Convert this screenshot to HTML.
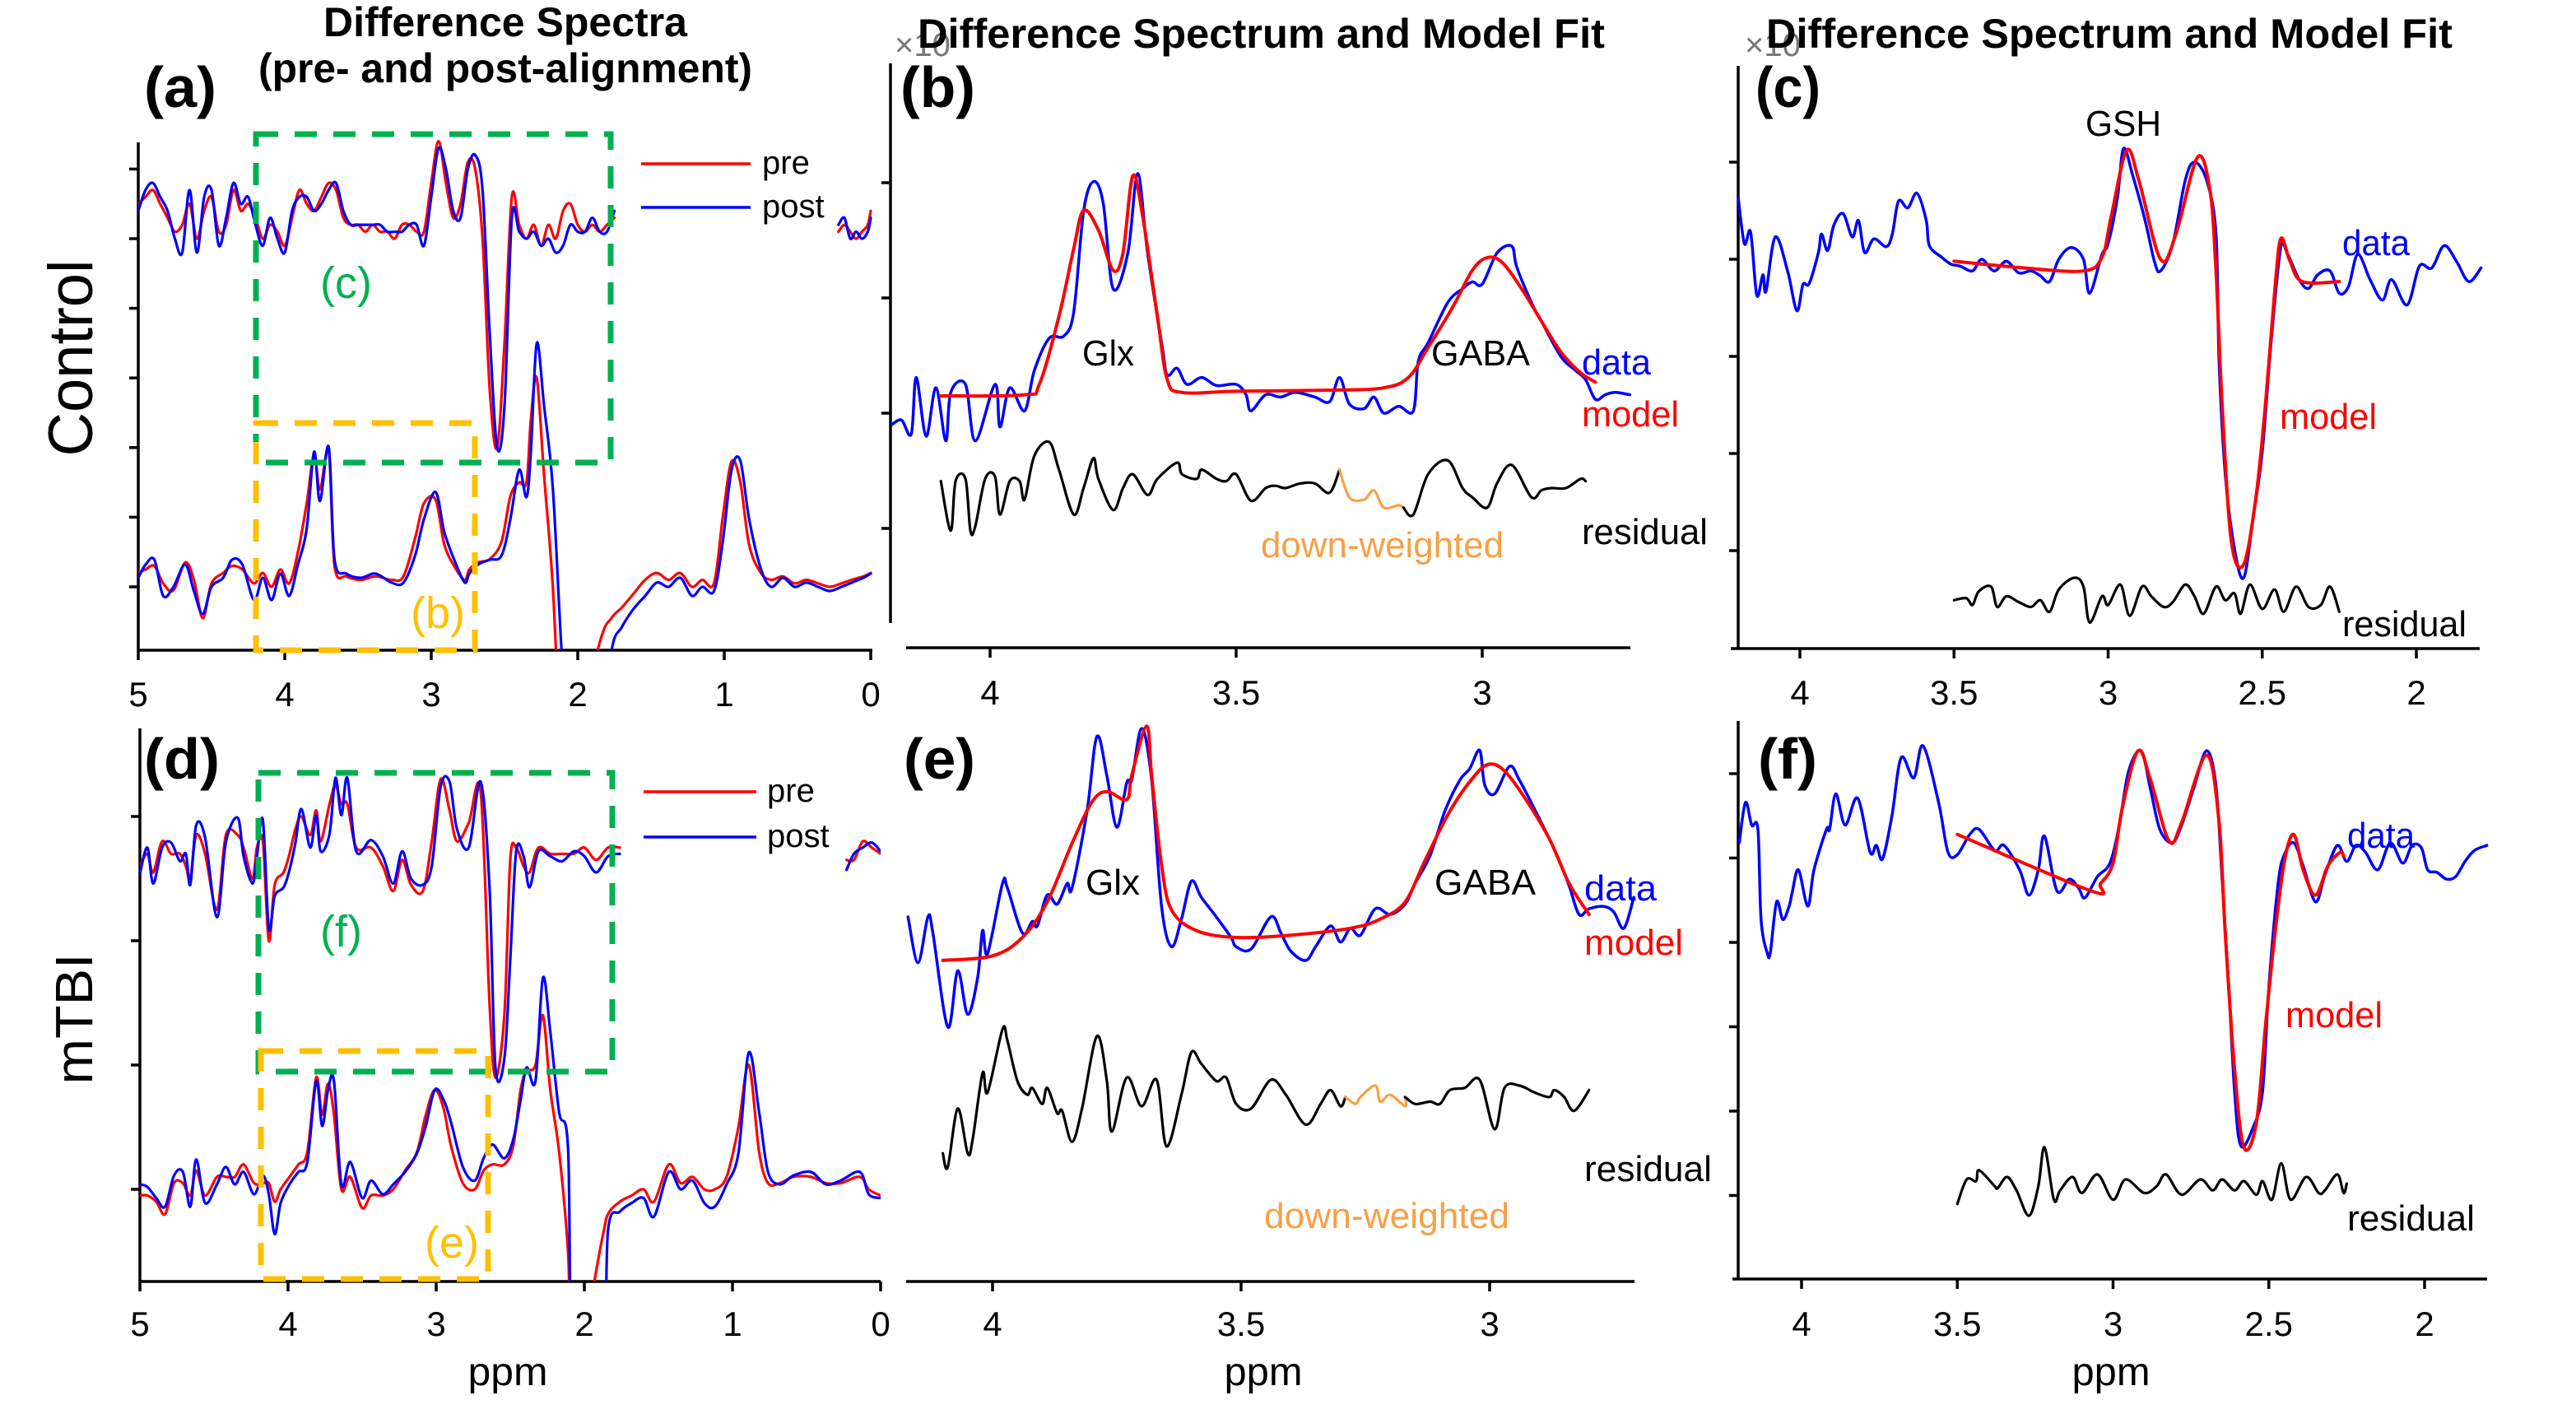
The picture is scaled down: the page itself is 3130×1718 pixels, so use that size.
<!DOCTYPE html>
<html><head><meta charset="utf-8"><style>
html,body{margin:0;padding:0;background:#fff;}
svg{display:block;font-family:"Liberation Sans",Arial,sans-serif;}
</style></head><body>
<svg id="fig" width="3130" height="1718" viewBox="0 0 3130 1718" xmlns="http://www.w3.org/2000/svg">
<defs>
<clipPath id="clipA"><rect x="168" y="150" width="893" height="640"/></clipPath>
<clipPath id="clipD"><rect x="170" y="870" width="900" height="687"/></clipPath>
</defs>
<g id="marks"></g>
<g id="overlay">
<text x="614" y="44" font-size="50" font-weight="bold" text-anchor="middle" textLength="442" lengthAdjust="spacingAndGlyphs">Difference Spectra</text>
<text x="614" y="100" font-size="50" font-weight="bold" text-anchor="middle" textLength="600" lengthAdjust="spacingAndGlyphs">(pre- and post-alignment)</text>
<text x="1087" y="68" font-size="40" fill="#777">×10</text>
<text x="2120" y="68" font-size="40" fill="#777">×10</text>
<text x="1115" y="58" font-size="50" font-weight="bold" textLength="835" lengthAdjust="spacingAndGlyphs">Difference Spectrum and Model Fit</text>
<text x="2146" y="58" font-size="50" font-weight="bold" textLength="834" lengthAdjust="spacingAndGlyphs">Difference Spectrum and Model Fit</text>
<text x="175" y="130" font-size="70" font-weight="bold" textLength="88" lengthAdjust="spacingAndGlyphs">(a)</text>
<text x="1094" y="130" font-size="70" font-weight="bold" textLength="91" lengthAdjust="spacingAndGlyphs">(b)</text>
<text x="2133" y="130" font-size="70" font-weight="bold" textLength="79" lengthAdjust="spacingAndGlyphs">(c)</text>
<text x="175" y="946" font-size="70" font-weight="bold" textLength="92" lengthAdjust="spacingAndGlyphs">(d)</text>
<text x="1098" y="946" font-size="70" font-weight="bold" textLength="87" lengthAdjust="spacingAndGlyphs">(e)</text>
<text x="2136" y="946" font-size="70" font-weight="bold" textLength="72" lengthAdjust="spacingAndGlyphs">(f)</text>
<text transform="translate(112,435) rotate(-90)" font-size="76" text-anchor="middle" textLength="239" lengthAdjust="spacingAndGlyphs">Control</text>
<text transform="translate(112,1238) rotate(-90)" font-size="64" text-anchor="middle" textLength="159" lengthAdjust="spacingAndGlyphs">mTBI</text>
<g>
<line x1="779" y1="199" x2="912" y2="199" stroke="#f00" stroke-width="3.5"/>
<text x="926" y="211" font-size="40">pre</text>
<line x1="779" y1="252" x2="912" y2="252" stroke="#00f" stroke-width="3.5"/>
<text x="926" y="264" font-size="40">post</text>
</g>
<g>
<line x1="782" y1="962" x2="919" y2="962" stroke="#f00" stroke-width="3.5"/>
<text x="932" y="974" font-size="40">pre</text>
<line x1="782" y1="1017" x2="919" y2="1017" stroke="#00f" stroke-width="3.5"/>
<text x="932" y="1029" font-size="40">post</text>
</g>
<rect x="311" y="163" width="431" height="399" fill="none" stroke="#00b050" stroke-width="7" stroke-dasharray="27 20"/>
<rect x="311" y="514" width="266" height="276" fill="none" stroke="#ffc000" stroke-width="7" stroke-dasharray="27 20"/>
<rect x="314" y="939" width="430" height="363" fill="none" stroke="#00b050" stroke-width="7" stroke-dasharray="27 20"/>
<rect x="317" y="1277" width="276" height="277" fill="none" stroke="#ffc000" stroke-width="7" stroke-dasharray="27 20"/>
<text x="389" y="362" font-size="54" fill="#00b050">(c)</text>
<text x="499" y="763" font-size="54" fill="#ffc000">(b)</text>
<text x="389" y="1150" font-size="54" fill="#00b050">(f)</text>
<text x="516" y="1528" font-size="54" fill="#ffc000">(e)</text>
<text x="1315" y="444" font-size="44" textLength="63" lengthAdjust="spacingAndGlyphs">Glx</text>
<text x="1739" y="444" font-size="44" textLength="120" lengthAdjust="spacingAndGlyphs">GABA</text>
<text x="1922" y="455" font-size="44" fill="#00f" textLength="84" lengthAdjust="spacingAndGlyphs">data</text>
<text x="1922" y="518" font-size="44" fill="#f00" textLength="118" lengthAdjust="spacingAndGlyphs">model</text>
<text x="1922" y="661" font-size="44" textLength="153" lengthAdjust="spacingAndGlyphs">residual</text>
<text x="1532" y="677" font-size="44" fill="#f7a046" textLength="295" lengthAdjust="spacingAndGlyphs">down-weighted</text>
<text x="2534" y="165" font-size="44" textLength="92" lengthAdjust="spacingAndGlyphs">GSH</text>
<text x="2846" y="310" font-size="44" fill="#00f" textLength="82" lengthAdjust="spacingAndGlyphs">data</text>
<text x="2770" y="521" font-size="44" fill="#f00" textLength="118" lengthAdjust="spacingAndGlyphs">model</text>
<text x="2846" y="773" font-size="44" textLength="151" lengthAdjust="spacingAndGlyphs">residual</text>
<text x="1319" y="1087" font-size="44" textLength="66" lengthAdjust="spacingAndGlyphs">Glx</text>
<text x="1743" y="1087" font-size="44" textLength="123" lengthAdjust="spacingAndGlyphs">GABA</text>
<text x="1925" y="1094" font-size="44" fill="#00f" textLength="88" lengthAdjust="spacingAndGlyphs">data</text>
<text x="1925" y="1160" font-size="44" fill="#f00" textLength="120" lengthAdjust="spacingAndGlyphs">model</text>
<text x="1925" y="1435" font-size="44" textLength="155" lengthAdjust="spacingAndGlyphs">residual</text>
<text x="1536" y="1492" font-size="44" fill="#f7a046" textLength="298" lengthAdjust="spacingAndGlyphs">down-weighted</text>
<text x="2852" y="1030" font-size="44" fill="#00f" textLength="82" lengthAdjust="spacingAndGlyphs">data</text>
<text x="2777" y="1248" font-size="44" fill="#f00" textLength="118" lengthAdjust="spacingAndGlyphs">model</text>
<text x="2852" y="1495" font-size="44" textLength="155" lengthAdjust="spacingAndGlyphs">residual</text>
<text x="617" y="1683" font-size="48" text-anchor="middle" textLength="97" lengthAdjust="spacingAndGlyphs">ppm</text>
<text x="1535" y="1683" font-size="48" text-anchor="middle" textLength="95" lengthAdjust="spacingAndGlyphs">ppm</text>
<text x="2565" y="1683" font-size="48" text-anchor="middle" textLength="95" lengthAdjust="spacingAndGlyphs">ppm</text>
</g>
</svg>
<script>
const ppmTopA = [5.00,4.95,4.90,4.85,4.80,4.75,4.70,4.65,4.60,4.55,4.50,4.45,4.40,4.35,4.30,4.25,4.20,4.15,4.10,4.05,4.00,3.95,3.90,3.85,3.80,3.75,3.70,3.65,3.60,3.55,3.50,3.45,3.40,3.35,3.30,3.25,3.20,3.15,3.10,3.05,3.00,2.95,2.90,2.85,2.80,2.75,2.70,2.65,2.60,2.55,2.50,2.45,2.40,2.35,2.30,2.25,2.20,2.15,2.10,2.05,2.00,1.95,1.90,1.85,1.80,1.75];
const postTopA = [54,57,58,56,54,50,48,57,48,56,57,49,53,58,55,56,52,49,53,50,48,54,56,56,54,55,57,58,54,52,52,52,52,52,51,51,51,52,52,49,56,63,60,54,53,60,62,57,36,20,26,53,51,50,51,49,50,48,49,52,51,51,53,51,51,54];
const preTopA = [55,56,57,55,53,51,52,55,50,54,56,51,52,57,54,55,53,50,52,51,49,53,57,55,54,56,58,57,53,52,52,51,52,51,51,50,52,52,51,51,58,64,58,53,55,61,60,50,28,20,35,56,52,50,52,49,52,50,54,55,52,51,52,51,52,53];
const ppmTailA = [0.22,0.18,0.14,0.10,0.06,0.02,0.00];
const postTailA = [52,53,50,51,50,51,53];
const preTailA = [51,52,51,50,51,52,54];
const ppmBotA = [5.00,4.95,4.89,4.83,4.76,4.68,4.62,4.56,4.50,4.42,4.36,4.29,4.21,4.15,4.09,4.03,3.97,3.91,3.85,3.80,3.76,3.70,3.66,3.58,3.48,3.38,3.27,3.19,3.11,3.05,2.97,2.91,2.83,2.77,2.74,2.68,2.60,2.52,2.46,2.40,2.35,2.32,2.28,2.23,2.17,2.11,2.05,1.85,1.77,1.70,1.62,1.54,1.46,1.38,1.30,1.22,1.15,1.07,1.01,0.95,0.89,0.83,0.75,0.68,0.60,0.52,0.44,0.36,0.28,0.20,0.13,0.05,0.00];
const postBotA = [1.3,3.2,3.9,-1.3,0,3.2,-0.6,-3.9,0,1.3,3.9,3.2,-1.9,1.3,-1.9,1.9,-1.3,3.2,8.4,19.4,12.3,20.1,3.9,1.9,1.3,1.9,0.6,0.6,4.5,9.7,13.6,7.8,3.2,0.6,1.9,3.2,3.9,4.5,9.7,16.8,12.9,19.4,35,26,14.2,-9.3,-25,-25,-9.3,-5.8,-3.2,-1.3,0.6,0,1.3,-1.3,0,-0.6,6.5,16.8,18.1,9.7,2.6,0,1.3,0,0.6,0,-0.6,0,0.6,1.3,1.9];
const preBotA = [2.0,2.5,3.0,0.5,-0.5,3.5,1.0,-4.5,0.5,2.0,3.0,2.5,0.5,2.0,0,2.5,0.5,5.0,12.0,19.0,14.0,19.5,3.0,1.5,1.0,1.5,1.0,1.5,7.0,12.0,12.5,6.0,2.5,1.0,2.5,3.5,4.0,6.5,13.0,15.0,15.0,24.0,30.0,16.0,0,-25,-25,-8.0,-4.5,-3.0,-1.0,1.0,2.0,1.0,2.0,0,1.0,0.5,10.0,18.0,15.0,6.0,2.0,1.0,1.5,0.5,1.0,0.5,0,0.5,1.0,1.5,2.0];
const xTicksA = [5,4,3,2,1,0];
const yTicksA = [0,10,20,30,40,50,60];

const ppmDataB = [4.20,4.18,4.16,4.15,4.13,4.11,4.09,4.08,4.05,4.03,3.99,3.98,3.96,3.93,3.91,3.88,3.85,3.83,3.81,3.79,3.77,3.75,3.72,3.70,3.68,3.65,3.64,3.62,3.60,3.57,3.54,3.50,3.48,3.47,3.44,3.41,3.38,3.34,3.31,3.29,3.27,3.24,3.22,3.20,3.17,3.14,3.13,3.11,3.07,3.04,3.02,3.00,2.97,2.94,2.93,2.90,2.88,2.84,2.81,2.79,2.77,2.75,2.73,2.70];
const dataB = [-1.0,-0.6,-1.8,3.1,-2.0,2.2,-2.4,1.8,2.5,-2.4,2.5,-1.2,2.2,0.2,3.7,6.5,6.7,8.8,17.5,20.1,18.2,10.8,13.9,20.8,13.9,5.7,3.3,3.9,2.5,3.1,2.4,2.5,1.6,0.2,1.6,1.4,1.8,1.4,1.0,3.1,0.8,0.4,1.4,0,0.6,0.2,4.5,6.1,9.6,10.8,11.4,11.2,13.9,14.5,12.7,9.6,8.0,4.9,3.7,2.9,1.2,1.6,1.8,1.6];
const ppmModelB = [4.10,3.93,3.90,3.86,3.83,3.81,3.78,3.75,3.73,3.71,3.69,3.66,3.64,3.61,3.50,3.30,3.20,3.15,3.11,3.06,3.02,2.99,2.96,2.92,2.88,2.84,2.80,2.77];
const modelB = [1.5,1.6,2.5,8.4,14.3,17.6,15.9,12.4,13.9,20.6,17.1,8.4,2.9,1.8,1.9,2.0,2.2,3.1,5.7,9.2,12.4,13.5,13.1,10.8,8.0,5.3,3.5,2.7];
const ppmResB = [4.10,4.08,4.07,4.05,4.04,4.03,4.01,3.99,3.98,3.96,3.94,3.93,3.91,3.88,3.86,3.83,3.81,3.79,3.78,3.75,3.73,3.71,3.68,3.66,3.62,3.61,3.58,3.57,3.54,3.52,3.50,3.47,3.44,3.42,3.40,3.37,3.34,3.31,3.29];
const resB = [-5.9,-10.2,-5.9,-5.7,-10.2,-9.8,-5.7,-5.5,-8.8,-5.9,-5.9,-7.5,-3.7,-2.5,-4.9,-8.8,-6.5,-3.9,-5.7,-8.4,-6.5,-5.3,-7.1,-5.7,-4.3,-5.3,-5.7,-4.9,-5.7,-5.9,-5.3,-7.6,-6.5,-6.3,-6.5,-6.1,-6.1,-6.9,-4.9];
const ppmDownB = [3.29,3.27,3.24,3.22,3.20,3.17,3.16];
const downB = [-4.9,-7.3,-7.5,-6.7,-8.2,-8.0,-8.2];
const ppmRes2B = [3.16,3.14,3.11,3.07,3.04,3.02,2.99,2.97,2.94,2.90,2.88,2.86,2.83,2.80,2.79];
const res2B = [-8.2,-8.8,-5.3,-4.1,-6.5,-7.3,-8.2,-6.1,-4.5,-7.3,-6.7,-6.5,-6.5,-5.7,-5.9];
const xTicksB = [4,3.5,3];
const yTicksB = [-10,0,10,20];

const ppmDataC = [4.20,4.18,4.16,4.14,4.12,4.11,4.08,4.04,4.01,3.99,3.97,3.94,3.93,3.91,3.89,3.86,3.83,3.81,3.79,3.76,3.72,3.70,3.68,3.65,3.62,3.59,3.58,3.54,3.51,3.48,3.44,3.41,3.37,3.33,3.29,3.25,3.22,3.19,3.16,3.12,3.08,3.06,3.02,3.00,2.97,2.95,2.92,2.88,2.85,2.83,2.79,2.75,2.72,2.68,2.65,2.64,2.62,2.59,2.56,2.53,2.50,2.47,2.44,2.42,2.38,2.35,2.32,2.28,2.25,2.22,2.19,2.15,2.11,2.08,2.03,1.99,1.95,1.91,1.87,1.83,1.79];
const dataC = [6.3,1.6,2.8,-3.7,-1.6,-3.3,2.3,-1.2,-5.3,-2.6,-2.5,0.7,2.6,0.9,3.5,4.7,2.3,4.0,0.7,2.1,1.3,2.6,6.0,5.3,6.8,4.0,1.4,0.2,-0.5,-0.7,-1.2,0,-1.2,-0.2,-1.4,-1.2,-1.7,-2.3,0,1.2,0,-3.5,0.5,1.6,6.3,11.4,8.6,4.0,-0.2,-1.2,1.6,8.1,10.0,8.1,2.6,-10.5,-22.1,-29.8,-32.8,-26.7,-19.8,-8.1,1.2,0.7,-2.1,-3.0,-1.6,-1.2,-3.5,-2.8,0.5,-2.1,-4.2,-2.1,-4.7,-0.7,-0.9,1.4,-0.2,-2.3,-0.9];
const ppmModelC = [3.50,3.27,3.08,3.02,2.99,2.94,2.90,2.83,2.78,2.71,2.67,2.65,2.63,2.60,2.56,2.52,2.49,2.46,2.44,2.41,2.37,2.25];
const modelC = [-0.2,-0.9,-1.2,0.2,4.4,11.2,8.1,0,2.6,10.5,7.2,-1.2,-15.1,-29.1,-31.4,-24.4,-15.1,-3.5,2.1,-0.2,-2.3,-2.3];
const ppmResC = [3.50,3.46,3.44,3.42,3.38,3.36,3.33,3.29,3.25,3.22,3.19,3.16,3.11,3.08,3.06,3.02,3.00,2.96,2.93,2.89,2.86,2.82,2.79,2.75,2.72,2.69,2.65,2.62,2.59,2.57,2.54,2.50,2.46,2.43,2.39,2.35,2.31,2.28,2.25];
const resC = [-35.1,-34.9,-35.6,-34.2,-33.7,-35.8,-34.7,-35.3,-35.8,-35.1,-36.3,-34.0,-32.8,-33.7,-37.4,-34.7,-35.6,-33.5,-36.7,-33.7,-34.7,-35.8,-35.3,-33.5,-34.7,-36.5,-33.7,-35.1,-34.4,-36.5,-33.5,-36.0,-34.0,-36.3,-33.7,-35.8,-35.6,-33.7,-36.3];
const xTicksC = [4,3.5,3,2.5,2];
const yTicksC = [10,0,-10,-20,-30];

const ppmTopD = [5.00,4.95,4.91,4.85,4.79,4.73,4.69,4.66,4.62,4.56,4.48,4.42,4.34,4.30,4.24,4.21,4.17,4.13,4.09,4.03,3.99,3.95,3.91,3.85,3.81,3.78,3.72,3.68,3.64,3.60,3.54,3.44,3.36,3.29,3.23,3.17,3.09,3.03,2.97,2.91,2.86,2.78,2.70,2.64,2.60,2.54,2.50,2.46,2.41,2.37,2.31,2.23,2.15,2.07,2.00,1.92,1.84,1.76];
const postTopD = [25.4,27.5,24.6,27.5,27.9,26.4,27.0,24.5,29.3,28.3,21.9,27.9,29.9,26.8,24.6,26.8,29.7,21.0,23.6,24.3,25.7,27.9,30.6,27.5,30.1,27.2,28.6,33.1,30.1,33.1,27.2,28.1,26.8,24.6,27.2,25.0,24.5,26.0,32.4,32.8,29.0,27.5,32.8,24.3,9.8,10.5,18.5,27.2,26.8,24.3,27.2,26.8,26.4,27.2,26.8,25.5,26.8,27.0];
const preTopD = [26.0,27.0,25.5,28.0,27.0,27.0,26.0,25.0,28.5,27.0,22.5,28.5,28.5,27.5,25.0,27.5,28.0,20.0,24.5,25.5,27.0,29.0,30.0,28.5,30.5,28.0,31.0,32.5,31.0,31.0,27.5,27.5,26.0,24.0,26.5,24.5,24.0,28.0,33.0,30.5,28.0,29.5,32.0,15.0,9.0,14.0,26.5,27.5,26.0,25.5,27.5,27.0,27.0,27.0,27.5,26.5,27.5,27.5];
const ppmTailD = [0.23,0.18,0.12,0.06,0.00];
const postTailD = [25.7,27.0,27.5,27.9,27.2];
const preTailD = [26.5,26.5,28.0,27.5,27.0];
const ppmBotD = [5.00,4.95,4.89,4.83,4.77,4.71,4.66,4.62,4.56,4.48,4.42,4.36,4.30,4.23,4.17,4.13,4.09,4.05,3.99,3.93,3.87,3.81,3.77,3.73,3.69,3.64,3.58,3.50,3.44,3.36,3.29,3.21,3.13,3.07,3.01,2.95,2.90,2.82,2.74,2.68,2.62,2.54,2.48,2.43,2.39,2.33,2.28,2.23,2.17,2.11,2.07,1.88,1.84,1.76,1.68,1.60,1.53,1.43,1.35,1.27,1.19,1.12,1.04,0.96,0.89,0.82,0.76,0.68,0.59,0.47,0.37,0.27,0.14,0.08,0.00];
const postBotD = [0.4,0.2,-0.7,-1.4,1.1,1.4,-1.4,2.4,-1.1,0.4,1.8,0.4,1.4,-0.4,1.1,-0.4,-3.6,-1.1,0.4,1.4,2.2,8.7,5.1,8.0,8.7,0.4,2.2,-0.7,0.7,-0.4,0.4,1.4,2.9,5.1,8.0,7.2,5.4,1.8,0.7,2.5,3.6,2.5,4.0,7.2,9.8,8.7,17.0,12.7,6.2,3.3,-15,-15,-3.3,-1.8,-1.1,-0.7,-2.2,1.4,0,0.7,-1.1,-1.4,0.4,2.9,11.0,6.2,1.4,0.4,1.1,1.4,0.4,0.7,1.4,-0.4,-0.7];
const preBotD = [-0.5,-0.5,-1.0,-2.0,0.5,0.5,-0.5,1.5,-0.5,1.0,1.0,1.0,2.0,0.5,0.5,0.5,-1.0,0,1.0,2.0,3.0,9.0,6.0,8.5,6.0,0,1.0,-1.5,-0.5,-0.5,0,1.5,3.0,6.0,8.0,6.5,3.5,0.5,0,1.5,2.0,2.0,3.5,8.0,9.5,10.0,14.0,8.0,3.0,-5.0,-15,-4.0,-2.0,-1.0,-0.5,0,-1.0,2.0,0.5,1.0,0,0,1.0,5.0,10.0,3.0,0.5,0.5,1.0,1.0,0.5,0.5,1.0,0,-0.5];
const xTicksD = [5,4,3,2,1,0];
const yTicksD = [0,10,20,30];

const ppmDataE = [4.17,4.15,4.13,4.12,4.09,4.07,4.05,4.03,4.02,4.01,3.98,3.97,3.94,3.92,3.91,3.89,3.87,3.85,3.84,3.81,3.79,3.77,3.75,3.73,3.72,3.70,3.68,3.66,3.64,3.62,3.60,3.58,3.55,3.52,3.51,3.48,3.44,3.42,3.40,3.37,3.35,3.32,3.30,3.28,3.26,3.23,3.20,3.17,3.15,3.12,3.09,3.06,3.04,3.02,3.01,2.99,2.96,2.94,2.91,2.88,2.86,2.84,2.82,2.80,2.77,2.75,2.73,2.71];
const dataE = [1.8,-2.2,1.8,0.4,-7.8,-2.9,-6.7,-3.5,0.6,-1.4,4.7,4.3,0.4,1.4,1.0,3.7,2.9,4.7,4.3,11.0,17.5,14.1,9.6,13.5,13.7,18.2,13.7,2.7,-0.8,1.6,4.9,3.5,1.8,0,-0.8,-1.0,1.8,0.4,-1.2,-2.0,-0.8,1.0,-0.4,0.8,0.2,2.5,2.0,2.9,4.7,7.1,11.0,13.7,14.7,16.3,13.3,12.5,14.9,13.7,11.2,8.6,6.7,4.5,2.0,2.5,2.7,2.2,0.8,3.5];
const ppmModelE = [4.10,4.00,3.94,3.89,3.84,3.80,3.77,3.73,3.72,3.69,3.68,3.66,3.64,3.59,3.51,3.40,3.28,3.22,3.17,3.13,3.08,3.03,3.00,2.97,2.93,2.88,2.84,2.80];
const modelE = [-2.0,-1.6,0,3.1,8.2,11.8,12.7,12.0,14.1,18.4,14.1,6.3,2.4,0.6,0,0.2,0.8,1.6,3.1,6.7,11.0,14.1,15.1,14.5,12.2,8.6,4.7,2.0];
const ppmResE = [4.10,4.09,4.07,4.05,4.04,4.02,4.01,3.98,3.97,3.95,3.93,3.92,3.90,3.89,3.87,3.86,3.84,3.82,3.79,3.77,3.76,3.73,3.70,3.67,3.65,3.62,3.60,3.58,3.55,3.53,3.51,3.48,3.44,3.41,3.37,3.34,3.32,3.30,3.29];
const resE = [-18.8,-20.0,-14.9,-18.8,-17.6,-11.8,-13.5,-8.0,-9.0,-12.5,-13.7,-13.1,-14.5,-13.1,-15.3,-15.1,-17.8,-14.9,-8.6,-12.5,-16.9,-12.2,-14.7,-12.4,-18.2,-13.7,-10.0,-11.0,-12.5,-12.2,-14.5,-14.9,-12.4,-13.7,-16.3,-14.5,-13.3,-14.7,-13.9];
const ppmDownE = [3.29,3.27,3.26,3.23,3.22,3.20,3.17,3.17];
const downE = [-13.9,-14.5,-13.9,-12.9,-14.3,-13.7,-14.7,-13.9];
const ppmRes2E = [3.17,3.15,3.12,3.10,3.08,3.05,3.02,2.99,2.97,2.94,2.91,2.88,2.87,2.85,2.83,2.80];
const res2E = [-13.9,-14.5,-14.3,-14.5,-13.3,-13.1,-12.4,-16.7,-13.1,-12.9,-13.5,-13.9,-13.3,-13.9,-15.1,-13.3];
const xTicksE = [4,3.5,3];

const ppmDataF = [4.20,4.18,4.16,4.14,4.13,4.11,4.10,4.08,4.06,4.04,4.03,4.01,3.98,3.96,3.92,3.91,3.89,3.86,3.82,3.78,3.76,3.74,3.71,3.68,3.64,3.61,3.56,3.53,3.50,3.46,3.43,3.38,3.35,3.30,3.27,3.24,3.22,3.18,3.14,3.11,3.09,3.05,3.01,2.98,2.95,2.91,2.88,2.85,2.81,2.78,2.74,2.70,2.67,2.65,2.63,2.61,2.59,2.55,2.52,2.50,2.47,2.45,2.42,2.39,2.35,2.32,2.28,2.25,2.22,2.19,2.15,2.11,2.07,2.04,2.01,1.99,1.96,1.93,1.90,1.87,1.84,1.80];
const dataF = [11.8,16.6,13.9,13.4,2.7,-1.3,-1.1,4.8,2.7,4.3,5.9,8.6,4.3,8.6,13.4,13.4,17.6,13.9,17.1,10.7,11.5,9.9,15.0,21.9,19.5,23.3,16.6,10.7,10.4,12.8,13.4,10.9,11.5,8.6,5.6,8.6,12.6,6.1,7.5,6.4,5.3,7.8,9.4,13.9,20.3,22.7,18.2,13.4,11.8,13.9,18.4,22.7,18.7,7.5,-4.3,-17.6,-24.1,-21.9,-17.6,-5.3,7.0,10.4,11.8,9.1,4.8,8.0,11.5,9.6,11.5,10.7,8.6,11.8,9.4,11.5,11.2,8.6,8.3,7.5,7.8,9.6,10.9,11.5];
const ppmModelF = [3.50,3.07,3.04,3.00,2.97,2.92,2.88,2.82,2.78,2.70,2.66,2.64,2.61,2.58,2.54,2.51,2.48,2.45,2.42,2.39,2.35,2.31,2.27,2.26];
const modelF = [12.8,6.1,7.0,9.4,16.0,22.7,19.3,12.0,14.2,22.2,14.4,1.1,-15.0,-24.3,-21.4,-9.6,1.1,9.6,12.8,8.6,5.6,9.1,10.7,10.2];
const ppmResF = [3.50,3.47,3.44,3.43,3.38,3.37,3.34,3.31,3.27,3.24,3.22,3.19,3.17,3.13,3.10,3.05,3.00,2.96,2.90,2.86,2.83,2.78,2.72,2.68,2.65,2.61,2.58,2.54,2.52,2.49,2.46,2.43,2.38,2.34,2.32,2.28,2.26,2.25];
const resF = [-31.0,-28.1,-28.3,-27.0,-28.9,-29.1,-27.8,-29.4,-32.4,-28.9,-24.3,-30.5,-29.4,-27.8,-29.7,-27.5,-30.5,-28.1,-29.7,-28.9,-27.5,-29.9,-28.1,-29.4,-28.1,-29.4,-28.3,-29.9,-28.3,-30.5,-26.2,-30.5,-27.8,-29.7,-29.4,-27.5,-29.7,-28.6];
const xTicksF = [4,3.5,3,2.5,2];
const yTicksF = [20,10,0,-10,-20,-30];

const xA = p => 168 + (5 - p) * 178;
const yA = v => 713 - v * 8.46;
const xD = p => 170 + (5 - p) * 180;
const yD = v => 1445 - v * 15.1;
const xB = p => 1203 + (4 - p) * 598;
const yB = v => 502 - v * 14.0;
const xE = p => 1206 + (4 - p) * 604;
const yE = v => 1139 - v * 13.95;
const xC = p => 2187 + (4 - p) * 374.5;
const yC = v => 315 - v * 11.8;
const xF = p => 2189 + (4 - p) * 378.5;
const yF = v => 1145 - v * 10.25;

const NS = 'http://www.w3.org/2000/svg';
const marks = document.getElementById('marks');

function mk(tag, attrs, parent) {
  const el = document.createElementNS(NS, tag);
  for (const k in attrs) el.setAttribute(k, attrs[k]);
  (parent || marks).appendChild(el);
  return el;
}

function curve(name, ppm, vals, xf, yf, color, w, clip) {
  const P = ppm.map((p, i) => [xf(p), yf(vals[i])]);
  let d = 'M' + P[0][0].toFixed(1) + ',' + P[0][1].toFixed(1);
  const t = 0.5 / 3;
  for (let i = 0; i < P.length - 1; i++) {
    const p0 = P[Math.max(0, i - 1)], p1 = P[i], p2 = P[i + 1], p3 = P[Math.min(P.length - 1, i + 2)];
    const c1x = p1[0] + (p2[0] - p0[0]) * t, c1y = p1[1] + (p2[1] - p0[1]) * t;
    const c2x = p2[0] - (p3[0] - p1[0]) * t, c2y = p2[1] - (p3[1] - p1[1]) * t;
    d += 'C' + c1x.toFixed(1) + ',' + c1y.toFixed(1) + ' ' + c2x.toFixed(1) + ',' + c2y.toFixed(1) + ' ' + p2[0].toFixed(1) + ',' + p2[1].toFixed(1);
  }
  const p = mk('path', {d: d, fill: 'none', stroke: color, 'stroke-width': w, 'stroke-linejoin': 'round', 'stroke-linecap': 'round'});
  if (clip) p.setAttribute('clip-path', 'url(#' + clip + ')');
  
  
  return p;
}

function line(name, x1, y1, x2, y2) {
  const l = mk('line', {x1: x1, y1: y1, x2: x2, y2: y2, stroke: '#000', 'stroke-width': 3.5});
  
  
  return l;
}

function xAxis(prefix, ticks, xf, y, x0, x1, labelY) {
  line(prefix + '-x-axis', x0, y, x1, y);
  ticks.forEach(t => {
    const x = xf(t);
    line(prefix + '-x-tick', x, y, x, y + 12);
    const tx = mk('text', {x: x, y: labelY, 'font-size': 42, 'text-anchor': 'middle'});
    tx.textContent = String(t);
    
    
  });
}

function yAxis(prefix, ticks, yf, x, y0, y1) {
  line(prefix + '-y-axis', x, y0, x, y1);
  ticks.forEach(t => {
    const y = yf(t);
    line(prefix + '-y-tick', x - 11, y, x, y);
  });
}

yAxis('panel-a', yTicksA, yA, 168, 173, 790);
xAxis('panel-a', xTicksA, xA, 790, 168, 1060, 858);
yAxis('panel-b', yTicksB, yB, 1082, 77, 757);
xAxis('panel-b', xTicksB, xB, 787, 1101, 1981, 856);
yAxis('panel-c', yTicksC, yC, 2112, 80, 788);
xAxis('panel-c', xTicksC, xC, 788, 2103, 3013, 856);
yAxis('panel-d', yTicksD, yD, 170, 885, 1557);
xAxis('panel-d', xTicksD, xD, 1557, 170, 1070, 1623);
xAxis('panel-e', xTicksE, xE, 1557, 1101, 1986, 1623);
yAxis('panel-f', yTicksF, yF, 2112, 876, 1554);
xAxis('panel-f', xTicksF, xF, 1554, 2105, 3022, 1623);

curve('pre-top-a', ppmTopA, preTopA, xA, yA, '#f00', 3.2, 'clipA');
curve('post-top-a', ppmTopA, postTopA, xA, yA, '#00f', 3.2, 'clipA');
curve('pre-tail-a', ppmTailA, preTailA, xA, yA, '#f00', 3.2, 'clipA');
curve('post-tail-a', ppmTailA, postTailA, xA, yA, '#00f', 3.2, 'clipA');
curve('pre-bottom-a', ppmBotA, preBotA, xA, yA, '#f00', 3.2, 'clipA');
curve('post-bottom-a', ppmBotA, postBotA, xA, yA, '#00f', 3.2, 'clipA');
curve('pre-top-d', ppmTopD, preTopD, xD, yD, '#f00', 3.2, 'clipD');
curve('post-top-d', ppmTopD, postTopD, xD, yD, '#00f', 3.2, 'clipD');
curve('pre-tail-d', ppmTailD, preTailD, xD, yD, '#f00', 3.2, 'clipD');
curve('post-tail-d', ppmTailD, postTailD, xD, yD, '#00f', 3.2, 'clipD');
curve('pre-bottom-d', ppmBotD, preBotD, xD, yD, '#f00', 3.2, 'clipD');
curve('post-bottom-d', ppmBotD, postBotD, xD, yD, '#00f', 3.2, 'clipD');
curve('data-b', ppmDataB, dataB, xB, yB, '#00f', 3.5);
curve('model-b', ppmModelB, modelB, xB, yB, '#f00', 4);
curve('residual-b', ppmResB, resB, xB, yB, '#000', 3.2);
curve('downweighted-b', ppmDownB, downB, xB, yB, '#f7a046', 3.2);
curve('residual-b-2', ppmRes2B, res2B, xB, yB, '#000', 3.2);
curve('data-c', ppmDataC, dataC, xC, yC, '#00f', 3.5);
curve('model-c', ppmModelC, modelC, xC, yC, '#f00', 4);
curve('residual-c', ppmResC, resC, xC, yC, '#000', 3.2);
curve('data-e', ppmDataE, dataE, xE, yE, '#00f', 3.5);
curve('model-e', ppmModelE, modelE, xE, yE, '#f00', 4);
curve('residual-e', ppmResE, resE, xE, yE, '#000', 3.2);
curve('downweighted-e', ppmDownE, downE, xE, yE, '#f7a046', 3.2);
curve('residual-e-2', ppmRes2E, res2E, xE, yE, '#000', 3.2);
curve('data-f', ppmDataF, dataF, xF, yF, '#00f', 3.5);
curve('model-f', ppmModelF, modelF, xF, yF, '#f00', 4);
curve('residual-f', ppmResF, resF, xF, yF, '#000', 3.2);
</script>
</body></html>
